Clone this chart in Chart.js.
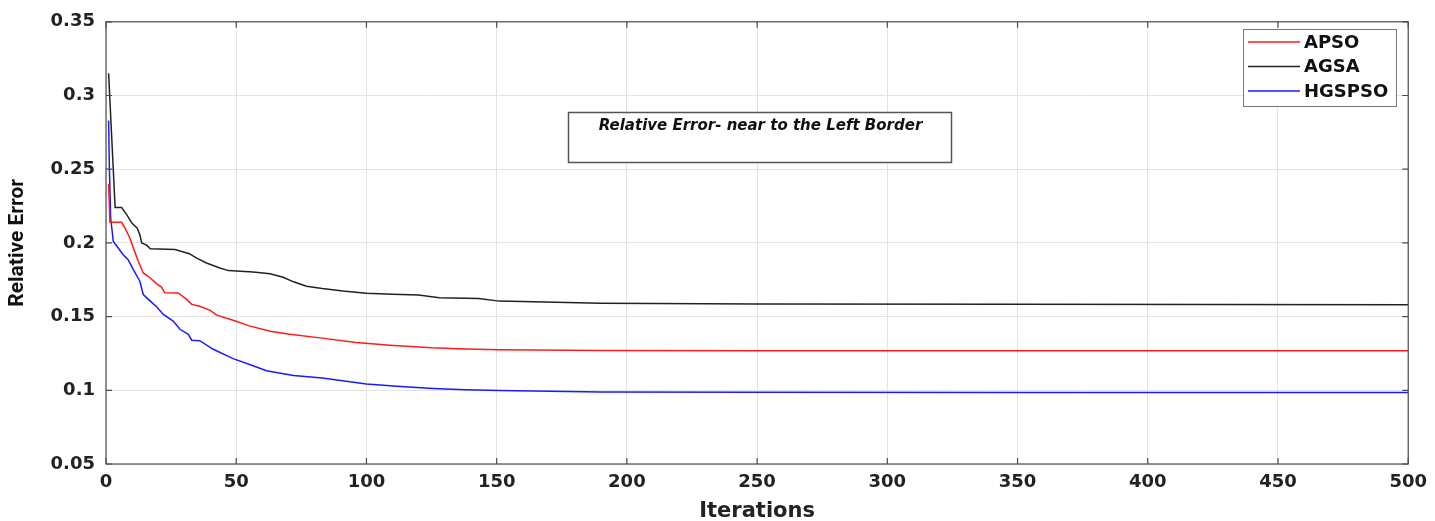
<!DOCTYPE html>
<html>
<head>
<meta charset="utf-8">
<script src="https://cdn.jsdelivr.net/npm/chart.js@4/dist/chart.umd.min.js"></script>
<style>
  html, body { margin: 0; padding: 0; background: #fff; }
  #wrap { width: 1435px; height: 521px; }
</style>
</head>
<body>
<div id="wrap"><canvas id="errChart" width="1435" height="521"></canvas></div>
<script>
// convergence curves, sampled at the iterations where the curve bends
const apsoIter = [1, 1.5, 6, 7.3, 9.2, 10.5, 12.4, 14.3, 17, 19.5, 21.3, 22.6, 27.7, 31, 32.9, 36, 40, 42.5, 48.8, 55, 63, 70.6, 83, 96, 109, 125, 138, 151, 190, 250, 350, 500];
const apsoErr = [0.240, 0.214, 0.214, 0.210, 0.2032, 0.1965, 0.1875, 0.1796, 0.1762, 0.1722, 0.170, 0.1661, 0.166, 0.1617, 0.1583, 0.157, 0.1542, 0.151, 0.1475, 0.1437, 0.140, 0.138, 0.1354, 0.1324, 0.1306, 0.1288, 0.128, 0.1275, 0.127, 0.1268, 0.1268, 0.1268];

const agsaIter = [1, 3.5, 6, 8, 10, 12, 13, 13.7, 15.6, 17, 26.5, 32, 34.8, 38.6, 43.7, 47, 56.5, 63, 68, 72, 77, 83, 91, 100, 110, 120, 128, 143, 151, 190, 250, 350, 500];
const agsaErr = [0.315, 0.224, 0.224, 0.219, 0.2133, 0.210, 0.2055, 0.200, 0.1985, 0.196, 0.1955, 0.1927, 0.1897, 0.1864, 0.183, 0.1812, 0.1803, 0.179, 0.1767, 0.1736, 0.1706, 0.169, 0.1673, 0.1658, 0.1652, 0.1646, 0.1628, 0.1623, 0.1605, 0.159, 0.1585, 0.1583, 0.158];

const hgspsoIter = [1, 1.3, 1.8, 2.8, 4.7, 6.6, 8.5, 10.5, 13, 14.3, 17, 19.5, 22, 25.8, 28.4, 31.6, 32.9, 36, 41, 48.8, 56.5, 61.6, 72, 83, 100, 113, 125.6, 138, 151, 190, 250, 350, 500];
const hgspsoErr = [0.283, 0.2504, 0.2167, 0.201, 0.1965, 0.192, 0.1886, 0.1819, 0.174, 0.165, 0.1605, 0.1565, 0.1515, 0.147, 0.1414, 0.138, 0.134, 0.1337, 0.128, 0.1215, 0.1167, 0.1133, 0.110, 0.1084, 0.1043, 0.1025, 0.1012, 0.1003, 0.0998, 0.0989, 0.0986, 0.0985, 0.0985];

const seriesNames = ["APSO", "AGSA", "HGSPSO"];
const seriesColors = ["#ff1a1a", "#222222", "#1a1aff"];
const noteText = "Relative Error- near to the Left Border";

const toPoints = (xs, ys) => xs.map((x, i) => ({ x: x, y: ys[i] }));

// frame, inward ticks, legend box and the note box, drawn matlab-style
const decorations = {
  id: "decorations",
  afterDatasetsDraw(chart) {
    const ctx = chart.ctx;
    const a = chart.chartArea;
    const xs = chart.scales.x, ys = chart.scales.y;
    ctx.save();

    ctx.strokeStyle = "#4d4d4d";
    ctx.lineWidth = 1.2;
    ctx.strokeRect(a.left, a.top, a.right - a.left, a.bottom - a.top);

    ctx.beginPath();
    xs.ticks.forEach(t => {
      const px = xs.getPixelForValue(t.value);
      ctx.moveTo(px, a.bottom); ctx.lineTo(px, a.bottom - 6);
      ctx.moveTo(px, a.top); ctx.lineTo(px, a.top + 6);
    });
    ys.ticks.forEach(t => {
      const py = ys.getPixelForValue(t.value);
      ctx.moveTo(a.left, py); ctx.lineTo(a.left + 6, py);
      ctx.moveTo(a.right, py); ctx.lineTo(a.right - 6, py);
    });
    ctx.stroke();

    // legend
    const lx = 1243, ly = 29, lw = 153, lh = 77;
    ctx.fillStyle = "#fff";
    ctx.fillRect(lx, ly, lw, lh);
    ctx.strokeStyle = "#777";
    ctx.lineWidth = 1;
    ctx.strokeRect(lx + 0.5, ly + 0.5, lw, lh);
    ctx.font = "bold 18px 'DejaVu Sans'";
    ctx.textBaseline = "middle";
    ctx.textAlign = "left";
    chart.data.datasets.forEach((ds, i) => {
      const y = ly + 13 + i * 24.5;
      ctx.strokeStyle = ds.borderColor;
      ctx.lineWidth = 1.5;
      ctx.beginPath();
      ctx.moveTo(lx + 5, y); ctx.lineTo(lx + 57, y);
      ctx.stroke();
      ctx.fillStyle = "#111";
      ctx.fillText(ds.label, lx + 61, y + 1);
    });

    // note box
    const nx = 568, ny = 112, nw = 383, nh = 50;
    ctx.fillStyle = "#fff";
    ctx.fillRect(nx, ny, nw, nh);
    ctx.strokeStyle = "#555";
    ctx.strokeRect(nx + 0.5, ny + 0.5, nw, nh);
    ctx.fillStyle = "#111";
    ctx.font = "italic bold 15px 'DejaVu Sans'";
    ctx.textAlign = "center";
    ctx.fillText(noteText, nx + nw / 2 + 1, ny + 14);

    ctx.restore();
  }
};

const whiteBg = {
  id: "whiteBg",
  beforeDraw(chart) {
    const ctx = chart.ctx;
    ctx.save();
    ctx.fillStyle = "#fff";
    ctx.fillRect(0, 0, chart.width, chart.height);
    ctx.restore();
  }
};

new Chart(document.getElementById("errChart").getContext("2d"), {
  type: "line",
  data: {
    datasets: [
      { label: seriesNames[0], data: toPoints(apsoIter, apsoErr), borderColor: seriesColors[0] },
      { label: seriesNames[1], data: toPoints(agsaIter, agsaErr), borderColor: seriesColors[1] },
      { label: seriesNames[2], data: toPoints(hgspsoIter, hgspsoErr), borderColor: seriesColors[2] },
    ],
  },
  options: {
    responsive: false,
    animation: false,
    parsing: false,
    elements: {
      line: { borderWidth: 1.5, tension: 0, fill: false },
      point: { radius: 0 },
    },
    layout: { padding: { top: 19, right: 26, left: 0, bottom: 0 } },
    scales: {
      x: {
        type: "linear",
        min: 0,
        max: 500,
        afterFit: (s) => { s.height = 57; },
        ticks: {
          stepSize: 50,
          padding: 8,
          color: "#222",
          font: { family: "DejaVu Sans", weight: "bold", size: 18 },
        },
        grid: { color: "#e3e3e3", drawTicks: false },
        border: { display: false },
        title: {
          display: true,
          text: "Iterations",
          color: "#222",
          padding: { top: 0, bottom: -1 },
          font: { family: "DejaVu Sans", weight: "bold", size: 21, lineHeight: 1 },
        },
      },
      y: {
        min: 0.05,
        max: 0.35,
        afterFit: (s) => { s.width = 106; },
        ticks: {
          stepSize: 0.05,
          padding: 11,
          color: "#222",
          font: { family: "DejaVu Sans", weight: "bold", size: 18 },
          callback: (v) => String(Math.round(v * 100) / 100),
        },
        grid: { color: "#e3e3e3", drawTicks: false },
        border: { display: false },
        title: {
          display: true,
          text: "Relative Error",
          color: "#111",
          padding: { top: 7, bottom: 0 },
          font: { family: "'Roboto', 'DejaVu Sans'", weight: "bold", size: 21, lineHeight: 1 },
        },
      },
    },
    plugins: {
      legend: { display: false },
      tooltip: { enabled: false },
    },
  },
  plugins: [whiteBg, decorations],
});
</script>
</body>
</html>
